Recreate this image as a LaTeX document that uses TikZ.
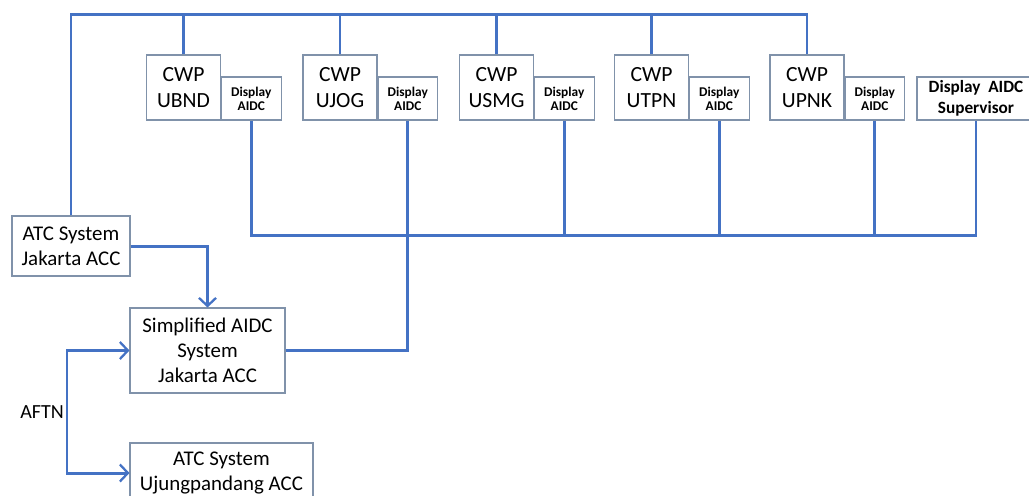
\documentclass[tikz,border=0pt]{standalone}
\usepackage{fontspec}
\setmainfont{Carlito}
\usetikzlibrary{arrows.meta}

\definecolor{linkBlue}{RGB}{68,114,196}
\definecolor{boxGray}{RGB}{128,146,170}

\tikzstyle{cwpBox} = [draw = boxGray, line width = 0.6pt,
                      minimum width = 1.48cm, minimum height = 1.3cm,
                      align = center, inner sep = 0pt,
                      font = \fontsize{12.3}{14.7}\selectfont
                      ]
\tikzstyle{dispBox} = [draw = boxGray, line width = 0.6pt,
                       minimum width = 1.19cm, minimum height = 0.86cm,
                       align = center, inner sep = 0pt,
                       font = \fontsize{7.6}{7.9}\selectfont\bfseries
                       ]
\tikzstyle{sysBox} = [draw = boxGray, line width = 0.6pt,
                      align = center, inner sep = 0pt,
                      font = \fontsize{11.9}{14.3}\selectfont
                      ]
\tikzstyle{bus} = [draw = linkBlue, line width = 1.7pt]
\tikzstyle{feed} = [bus, -{Straight Barb[length = 1.6mm, width = 3.4mm, line width = 1.3pt]}]

\begin{document}
\begin{tikzpicture}[x = 0.02cm, y = -0.02cm]

    \clip (0, 0) rectangle (1029, 495);

    %%% Controller working positions
    % CWP boxes
    \node (cUBND) at (183.5, 87.5) [cwpBox]{CWP\\UBND};
    \node (cUJOG) at (340, 87.5) [cwpBox]{CWP\\UJOG};
    \node (cUSMG) at (496.5, 87.5) [cwpBox]{CWP\\USMG};
    \node (cUTPN) at (651.5, 87.5) [cwpBox]{CWP\\UTPN};
    \node (cUPNK) at (807, 87.5) [cwpBox]{CWP\\UPNK};

    % Display AIDC boxes
    \foreach \n in {UBND, UJOG, USMG, UTPN, UPNK}
        \node (d\n) at (c\n.south east) [dispBox, anchor = south west]{Display\\AIDC};

    % Supervisor
    \node (sup) at (976, 98.5) [dispBox, minimum width = 2.36cm,
        font = \fontsize{9.8}{12.3}\selectfont\bfseries]{Display\ \ AIDC\\Supervisor};

    %%% Systems
    \node (atcJkt) at (71, 246) [sysBox, minimum width = 2.36cm, minimum height = 1.2cm]{ATC System\\Jakarta ACC};
    \node (simp) at (207.5, 350.5) [sysBox, minimum width = 3.1cm, minimum height = 1.7cm]{Simplified AIDC\\System\\Jakarta ACC};
    \node (ujp) at (221.5, 473) [sysBox, minimum width = 3.66cm, minimum height = 1.2cm]{ATC System\\Ujungpandang ACC};

    \node (aftn) at (42, 412) [font = \fontsize{11.4}{13}\selectfont]{AFTN};

    %%% Links
    \coordinate (topBus) at (0, 14);
    \coordinate (lowBus) at (0, 235);
    \coordinate (aftnX) at (67, 0);

    % upper bus
    \draw[bus] (atcJkt.north) |- (topBus -| cUPNK.north) -- (cUPNK.north);
    \foreach \n in {UBND, UJOG, USMG, UTPN}
        \draw[bus] (c\n.north) -- (c\n.north |- topBus);

    % lower bus
    \draw[bus] (dUBND.south) |- (lowBus -| sup.south) -- (sup.south);
    \foreach \n in {USMG, UTPN, UPNK}
        \draw[bus] (d\n.south) -- (d\n.south |- lowBus);

        % UJOG to simplified system
        \draw[bus] (dUJOG.south) |- (simp.east);

    % ATC system to simplified system
    \draw[feed] (atcJkt.east) -| (simp.north);

    % AFTN
    \draw[bus, {Straight Barb[length = 1.6mm, width = 3.4mm, line width = 1.3pt]}-{Straight Barb[length = 1.6mm, width = 3.4mm, line width = 1.3pt]}]
        (simp.west) -- (simp.west -| aftnX) |- (ujp.west);

\end{tikzpicture}
\end{document}
